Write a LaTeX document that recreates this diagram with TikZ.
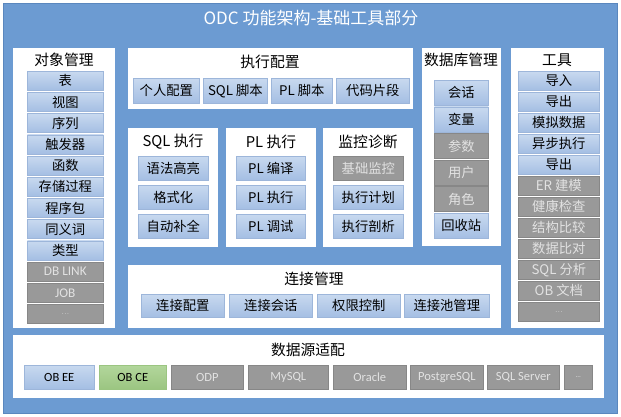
\documentclass[tikz,border=0pt]{standalone}
\usepackage{fontspec}
\setmainfont{Noto Sans CJK SC}
\newfontfamily\latfont{Carlito}
\definecolor{bgblue}{HTML}{6C9BD2}
\definecolor{bgedge}{HTML}{5A87BE}
\definecolor{itop}{HTML}{C8D9EF}
\definecolor{ibot}{HTML}{A4BEE3}
\definecolor{iedge}{HTML}{9DB6DA}
\definecolor{gfill}{HTML}{999999}
\definecolor{gedge}{HTML}{878787}
\definecolor{gtext}{HTML}{E2E2E2}
\definecolor{ntop}{HTML}{B2D69B}
\definecolor{nbot}{HTML}{9BC581}
\tikzset{
  panel/.style={fill=white,draw=none},
  boxbase/.style={anchor=north west,inner sep=0pt,font=\fontsize{13.3}{15}\selectfont},
  blu/.style={boxbase,top color=itop,bottom color=ibot,draw=iedge,line width=0.6pt,text=black},
  gry/.style={boxbase,fill=gfill,draw=gedge,line width=0.6pt,text=gtext},
  grn/.style={boxbase,top color=ntop,bottom color=nbot,draw=nbot,line width=0.6pt,text=black},
  ptitle/.style={font=\fontsize{14.8}{16}\selectfont,text=black,inner sep=0pt},
  small/.style={font=\latfont\fontsize{12.5}{14}\selectfont},
  latn/.style={font=\latfont\fontsize{14}{15}\selectfont}
}
\begin{document}
\begin{tikzpicture}[x=1pt,y=-1pt]
\useasboundingbox (0,0) rectangle (621,417);
\fill[white] (0,0) rectangle (621,417);
\fill[bgblue] (3,3) rectangle (617,413);
\draw[bgedge,line width=0.6pt] (3,3) rectangle (617,413);
\node[text=white,font=\fontsize{17}{19}\selectfont,inner sep=0pt] (title) at (311,18) {ODC 功能架构-基础工具部分};
% panels
\fill[panel] (13,48) rectangle (115,328);
\fill[panel] (128,48) rectangle (413,109);
\fill[panel] (128,128) rectangle (218,247);
\fill[panel] (226,128) rectangle (316,247);
\fill[panel] (323,128) rectangle (413,247);
\fill[panel] (422,48) rectangle (501,246);
\fill[panel] (511,48) rectangle (604,328);
\fill[panel] (128,265) rectangle (501,328);
\fill[panel] (13,335) rectangle (604,398);
% titles
\node[ptitle] (t1) at (64,60) {对象管理};
\node[ptitle] (t2) at (270,62) {执行配置};
\node[ptitle] (t3) at (173,142) {SQL 执行};
\node[ptitle] (t4) at (271,142) {PL 执行};
\node[ptitle] (t5) at (368,142) {监控诊断};
\node[ptitle] (t6) at (461,60) {数据库管理};
\node[ptitle] (t7) at (557,60) {工具};
\node[ptitle] (t8) at (314,279) {连接管理};
\node[ptitle] (t9) at (308,350) {数据源适配};
% object management
\foreach \t/\s [count=\i from 0] in {表/blu,视图/blu,序列/blu,触发器/blu,函数/blu,存储过程/blu,程序包/blu,同义词/blu,类型/blu,{\latfont DB LINK}/gry,{\latfont JOB}/gry,{\scriptsize\ldots}/gry}
  \node[\s,minimum width=76pt,minimum height=19pt] (om\i) at (27,{71+21.2*\i}) {\t};
% tools
\foreach \t/\s [count=\i from 0] in {导入/blu,导出/blu,模拟数据/blu,异步执行/blu,导出/blu,ER 建模/gry,健康检查/gry,结构比较/gry,数据比对/gry,SQL 分析/gry,OB 文档/gry,{\scriptsize\ldots}/gry}
  \node[\s,minimum width=81pt,minimum height=19pt] (tl\i) at (518,{71+21.0*\i}) {\t};
% exec config
\node[blu,minimum width=66pt,minimum height=25pt] (ec1) at (133,78) {个人配置};
\node[blu,minimum width=64pt,minimum height=25pt] (ec2) at (203,78) {SQL 脚本};
\node[blu,minimum width=61pt,minimum height=25pt] (ec3) at (271,78) {PL 脚本};
\node[blu,minimum width=73pt,minimum height=25pt] (ec4) at (336,78) {代码片段};
% sql exec
\foreach \t/\s [count=\i from 0] in {语法高亮/blu,格式化/blu,自动补全/blu}
  \node[\s,minimum width=70pt,minimum height=24pt] (se\i) at (138,{156+29*\i}) {\t};
\foreach \t/\s [count=\i from 0] in {PL 编译/blu,PL 执行/blu,PL 调试/blu}
  \node[\s,minimum width=69pt,minimum height=24pt] (pe\i) at (236,{156+29*\i}) {\t};
\foreach \t/\s [count=\i from 0] in {基础监控/gry,执行计划/blu,执行剖析/blu}
  \node[\s,minimum width=70pt,minimum height=24pt] (md\i) at (333,{156+29*\i}) {\t};
% db management
\foreach \t/\s [count=\i from 0] in {会话/blu,变量/blu,参数/gry,用户/gry,角色/gry,回收站/blu}
  \node[\s,minimum width=54pt,minimum height=25pt] (db\i) at (434,{80+26.6*\i}) {\t};
% connection
\node[blu,minimum width=83pt,minimum height=23pt] (cm1) at (141,294) {连接配置};
\node[blu,minimum width=83pt,minimum height=23pt] (cm2) at (229,294) {连接会话};
\node[blu,minimum width=83pt,minimum height=23pt] (cm3) at (317,294) {权限控制};
\node[blu,minimum width=85pt,minimum height=23pt] (cm4) at (404,294) {连接池管理};
% data source
\node[blu,small,minimum width=70pt,minimum height=24pt] (ds1) at (24,365) {OB EE};
\node[grn,small,minimum width=67pt,minimum height=24pt] (ds2) at (99,365) {OB CE};
\node[gry,small,minimum width=72pt,minimum height=24pt] (ds3) at (171,365) {ODP};
\node[gry,small,minimum width=80pt,minimum height=24pt] (ds4) at (248,365) {MySQL};
\node[gry,small,minimum width=73pt,minimum height=24pt] (ds5) at (333,365) {Oracle};
\node[gry,small,minimum width=73pt,minimum height=24pt] (ds6) at (410,365) {PostgreSQL};
\node[gry,small,minimum width=72pt,minimum height=24pt] (ds7) at (487,365) {SQL Server};
\node[gry,small,minimum width=28pt,minimum height=24pt] (ds8) at (564,365) {\scriptsize\ldots};
\end{tikzpicture}
\end{document}
